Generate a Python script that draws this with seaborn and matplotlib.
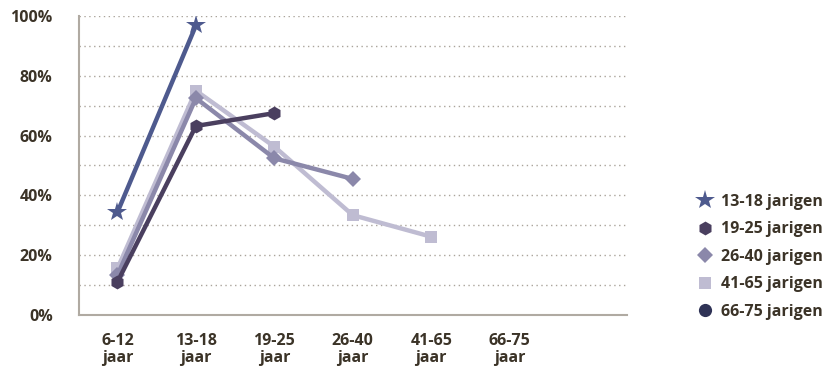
import numpy as np
import pandas as pd
import matplotlib
matplotlib.use('Agg')
import matplotlib.pyplot as plt
from matplotlib.lines import Line2D
import seaborn as sns

# categories on the x axis
categories = ['6-12\njaar', '13-18\njaar', '19-25\njaar', '26-40\njaar', '41-65\njaar', '66-75\njaar']

# percentages per age group (series only cover the first few categories)
v_13_18 = [34.4, 96.8]
v_19_25 = [11.1, 63.2, 67.5]
v_26_40 = [13.4, 72.5, 52.4, 45.5]
v_41_65 = [15.6, 75.0, 56.3, 33.4, 26.2]
v_66_75 = []

series_names = ['13-18 jarigen', '19-25 jarigen', '26-40 jarigen', '41-65 jarigen', '66-75 jarigen']
series_vals = [v_13_18, v_19_25, v_26_40, v_41_65, v_66_75]
colors = ['#4e5a8e', '#4a3f5f', '#8b88aa', '#bfbcd2', '#2f3356']
markers = ['*', 'h', 'D', 's', 'o']
msizes = [15, 10, 8.5, 9, 9.5]

text_col = '#3b3327'
axis_col = '#b0aaa2'

sns.set_style('white')
plt.rcParams['font.family'] = ['Liberation Sans Narrow', 'Open Sans', 'DejaVu Sans']
plt.rcParams['font.weight'] = 'bold'

rows = []
for name, vals in zip(series_names, series_vals):
    for i, v in enumerate(vals):
        rows.append({'group': name, 'x': i, 'pct': v})
df = pd.DataFrame(rows)

fig = plt.figure(figsize=(8.32, 3.69), dpi=100)
ax = fig.add_axes([0.095, 0.146, 0.659, 0.811])

# draw lightest series first so darker ones sit on top
for k in [3, 2, 1, 0]:
    sub = df[df['group'] == series_names[k]]
    if sub.empty:
        continue
    sns.lineplot(data=sub, x='x', y='pct', ax=ax, color=colors[k], lw=3.2,
                 marker=markers[k], markersize=msizes[k], markeredgewidth=0,
                 legend=False)

ax.set_xlim(-0.49, 6.5)
ax.set_ylim(0, 100)
ax.set_xticks(range(len(categories)))
ax.set_xticklabels(categories, fontsize=11.5, fontweight='bold', color=text_col,
                   linespacing=1.05)
ax.set_yticks([0, 20, 40, 60, 80, 100])
ax.set_yticklabels([f'{t}%' for t in [0, 20, 40, 60, 80, 100]], fontsize=11.5,
                   fontweight='bold', color=text_col)
ax.set_yticks(range(10, 100, 20), minor=True)
ax.set_xlabel('')
ax.set_ylabel('')

for y in range(10, 101, 10):
    ax.axhline(y, color='#aaa49b', lw=1, ls=(0, (1, 2.5)), zorder=0)

ax.tick_params(axis='x', length=0, pad=13)
ax.tick_params(axis='y', which='both', length=12, width=1.3, color=axis_col, pad=7)

for s in ['top', 'right']:
    ax.spines[s].set_visible(False)
for s in ['left', 'bottom']:
    ax.spines[s].set_color(axis_col)
    ax.spines[s].set_linewidth(1.5)

handles = [Line2D([], [], ls='none', marker=m, color=c, markersize=ms, markeredgewidth=0)
           for m, c, ms in zip(markers, colors, msizes)]
leg = fig.legend(handles, series_names, loc='upper left', bbox_to_anchor=(0.826, 0.492),
                 frameon=False, handletextpad=0.3, labelspacing=0.72, handlelength=1.4,
                 borderaxespad=0, prop={'size': 11.5, 'weight': 'bold'})
for t in leg.get_texts():
    t.set_color(text_col)

plt.savefig('out.png', dpi=100)
plt.close()
